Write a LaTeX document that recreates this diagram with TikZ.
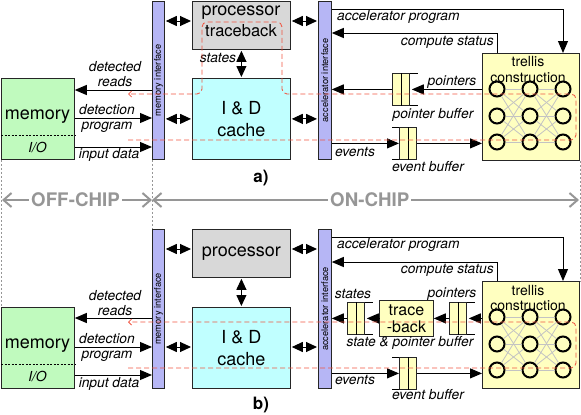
\documentclass[tikz,border=0pt]{standalone}
\usepackage{fontspec}
\setmainfont{TeX Gyre Heros}
\usetikzlibrary{arrows.meta}

\definecolor{memgreen}{RGB}{192,250,190}
\definecolor{ifblue}{RGB}{182,182,245}
\definecolor{procgray}{RGB}{216,216,216}
\definecolor{cachecyan}{RGB}{192,255,255}
\definecolor{trelyellow}{RGB}{255,255,192}
\definecolor{flowred}{RGB}{240,85,65}
\definecolor{chipgray}{RGB}{150,150,150}
\definecolor{meshgray}{RGB}{195,195,195}

\tikzset{
  box/.style={draw=black!85, line width=0.8pt, inner sep=0pt, anchor=north west},
  big/.style={font=\fontsize{18}{18}\selectfont, inner sep=0pt},
  lbl/.style={font=\fontsize{13.8}{15}\selectfont\itshape, inner sep=0pt},
  iftxt/.style={font=\fontsize{9.3}{9.3}\selectfont, rotate=90, inner sep=0pt},
  arr/.style={line width=1pt, -{Triangle[length=12pt,width=10pt]}},
  darr/.style={line width=1pt, shorten <=1pt, shorten >=1pt,
    {Triangle[length=11pt,width=10pt]}-{Triangle[length=11pt,width=10pt]}},
  flow/.style={draw=flowred, line width=0.85pt, dash pattern=on 5pt off 3pt,
    rounded corners=5pt, -{Straight Barb[length=3pt,width=6pt]}},
  chipdim/.style={draw=chipgray, line width=2pt,
    {Straight Barb[length=8pt,width=14pt]}-{Straight Barb[length=8pt,width=14pt]}},
  chiptxt/.style={font=\fontsize{18.7}{19}\selectfont\bfseries, text=chipgray, fill=white, inner sep=2pt},
  guide/.style={draw=chipgray, line width=0.5pt, dash pattern=on 2pt off 2pt},
  buf/.style={box, fill=trelyellow, minimum width=17pt, minimum height=32pt},
  knot/.style={circle, draw, line width=2pt, fill=trelyellow, minimum size=15pt, inner sep=0pt},
  mesh/.style={draw=meshgray, line width=0.8pt},
}

% queue with two cells, open end right / left
\newcommand{\bufright}[3]{%
  \node[buf] (#1) at (#2,#3) {};
  \draw[line width=0.8pt] (#1.north) -- (#1.south);
  \draw[line width=0.8pt] (#1.north east) -- ++(8,0);
  \draw[line width=0.8pt] (#1.south east) -- ++(8,0);
}
\newcommand{\bufleft}[3]{%
  \node[buf] (#1) at (#2,#3) {};
  \draw[line width=0.8pt] (#1.north) -- (#1.south);
  \draw[line width=0.8pt] (#1.north west) -- ++(-7,0);
  \draw[line width=0.8pt] (#1.south west) -- ++(-7,0);
}
% trellis box with 3x3 states
\newcommand{\trellis}[1]{%
  \node[box, fill=trelyellow, minimum width=97pt, minimum height=107pt] (#1) at (482,53) {};
  \node[font=\fontsize{14}{14}\selectfont, inner sep=0pt] (#1-t) at (528,62) {trellis};
  \node[font=\fontsize{14}{14}\selectfont, inner sep=0pt] (#1-c) at (528,78) {construction};
  \foreach \row/\yy in {1/89,2/116,3/142}
    \foreach \col/\xx in {1/497,2/530,3/563}
      \node[knot] (#1\row\col) at (\xx,\yy) {};
  \foreach \a in {1,2,3}
    \foreach \b in {1,2,3} {
      \draw[mesh] (#1\a1) -- (#1\b2);
      \draw[mesh] (#1\a2) -- (#1\b3);
    }
}

\begin{document}
\begin{tikzpicture}[x=1pt, y=-1pt]
  \useasboundingbox (0,0) rectangle (581,415);

  % ---- a) ----
  \node[box, fill=memgreen, minimum width=73pt, minimum height=81pt] (mem) at (1,78) {};
  \draw[line width=0.8pt, dash pattern=on 2pt off 1.5pt] (mem.west |- 0,135) -- (mem.east |- 0,135);
  \node[big] (memtxt) at (37.5,117) {memory};
  \node[lbl] (io) at (37.5,147) {I/O};

  \node[box, fill=ifblue, minimum width=12pt, minimum height=158pt] (memif) at (152,1) {};
  \node[iftxt] (memiftxt) at (memif.center) {memory interface};
  \node[box, fill=procgray, minimum width=98pt, minimum height=48pt] (proc) at (192,1) {};
  \node[big] (proctxt) at (241,13) {processor};
  \node[font=\fontsize{16.5}{16.5}\selectfont, inner sep=0pt] (tbtxt) at (241,31) {traceback};
  \node[box, fill=cachecyan, minimum width=98pt, minimum height=81pt,
        align=center, font=\fontsize{18}{22}\selectfont] (cache) at (192,78) {I \& D\\cache};
  \node[box, fill=ifblue, minimum width=13pt, minimum height=158pt] (accif) at (318,1) {};
  \node[iftxt] (acciftxt) at (accif.center) {accelerator interface};

  \trellis{trel}
  \bufright{pbuf}{392}{73}
  \bufleft{ebuf}{399}{127}

  \draw[arr] (memif.west |- 0,90) -- (mem.east |- 0,90);
  \draw[arr] (mem.east |- 0,118) -- (memif.west |- 0,118);
  \draw[arr] (mem.east |- 0,147) -- (memif.west |- 0,147);
  \node[lbl, align=center] (det) at (115,74) {detected\\reads};
  \node[lbl] (dprog) at (107,110) {detection};
  \node[lbl] (dprog2) at (107,127) {program};
  \node[lbl] (indata) at (109,155) {input data};

  \draw[darr] (memif.east |- 0,21) -- (proc.west |- 0,21);
  \draw[darr] (memif.east |- cache.west) -- (cache.west);
  \draw[darr] (proc.east |- 0,21) -- (accif.west |- 0,21);
  \draw[darr] (cache.east) -- (accif.west |- cache.east);
  \draw[darr] (proc.south) -- (cache.north);
  \node[lbl] (states) at (218,58) {states};

  \draw[arr] (accif.east |- 0,9) -| (trel13 |- trel.north);
  \node[lbl, anchor=west] (accprog) at (337,17) {accelerator program};
  \draw[arr] (trel11 |- trel.north) |- (accif.east |- 0,33);
  \node[lbl, anchor=east] (cstat) at (494,42) {compute status};

  \draw[arr] (trel.west |- pbuf.east) -- ([xshift=2pt]pbuf.east);
  \draw[arr] (pbuf.west) -- (accif.east |- pbuf.west);
  \node[lbl] (ptrs) at (452,82) {pointers};
  \node[lbl] (pbuftxt) at (433,115) {pointer buffer};

  \draw[arr] (accif.east |- ebuf.west) -- (ebuf.west);
  \draw[arr] (ebuf.east) -- (trel.west |- ebuf.east);
  \node[lbl] (ev) at (355,152) {events};
  \node[lbl] (ebuftxt) at (428,167) {event buffer};

  \coordinate (flowin) at (128,140);
  \coordinate (flowout) at (128,94);
  \draw[flow] (flowin) -- (576,140) -- (576,94) -- (282,94) -- (282,22)
    -- (202,22) -- (202,94) -- (flowout);

  \node[font=\fontsize{17}{17}\selectfont\bfseries, inner sep=0pt] (capa) at (261,178) {a)};

  % ---- b) ----
  \begin{scope}[yshift=-228pt]
    \node[box, fill=memgreen, minimum width=73pt, minimum height=81pt] (memb) at (1,79) {};
    \draw[line width=0.8pt, dash pattern=on 2pt off 1.5pt] (memb.west |- 0,136) -- (memb.east |- 0,136);
    \node[big] (memtxtb) at (37.5,118) {memory};
    \node[lbl] (iob) at (37.5,148) {I/O};

    \node[box, fill=ifblue, minimum width=12pt, minimum height=159pt] (memifb) at (152,1) {};
    \node[iftxt] (memiftxtb) at (memifb.center) {memory interface};
    \node[box, fill=procgray, minimum width=98pt, minimum height=48pt,
          font=\fontsize{18}{18}\selectfont] (procb) at (192,1) {processor};
    \node[box, fill=cachecyan, minimum width=98pt, minimum height=81pt,
          align=center, font=\fontsize{18}{22}\selectfont] (cacheb) at (192,79) {I \& D\\cache};
    \node[box, fill=ifblue, minimum width=13pt, minimum height=159pt] (accifb) at (318,1) {};
    \node[iftxt] (acciftxtb) at (accifb.center) {accelerator interface};

    \trellis{trelb}
    \bufright{pbufb}{449}{74}
    \node[box, fill=trelyellow, minimum width=54pt, minimum height=36pt,
          align=center, font=\fontsize{16}{17}\selectfont] (tb) at (379,72) {trace\\-back};
    \bufright{sbufb}{347}{74}
    \bufleft{ebufb}{399}{129}

    \draw[arr] (memifb.west |- 0,90) -- (memb.east |- 0,90);
    \draw[arr] (memb.east |- 0,119) -- (memifb.west |- 0,119);
    \draw[arr] (memb.east |- 0,147) -- (memifb.west |- 0,147);
    \node[lbl, align=center] (detb) at (115,75) {detected\\reads};
    \node[lbl] (dprogb) at (107,111) {detection};
    \node[lbl] (dprog2b) at (107,128) {program};
    \node[lbl] (indatab) at (109,156) {input data};

    \draw[darr] (memifb.east |- 0,21) -- (procb.west |- 0,21);
    \draw[darr] (memifb.east |- 0,119) -- (cacheb.west |- 0,119);
    \draw[darr] (procb.east |- 0,21) -- (accifb.west |- 0,21);
    \draw[darr] (cacheb.east |- 0,119) -- (accifb.west |- 0,119);
    \draw[darr] (procb.south) -- (cacheb.north);

    \draw[arr] (accifb.east |- 0,9) -| (trelb13 |- trelb.north);
    \node[lbl, anchor=west] (accprogb) at (337,17) {accelerator program};
    \draw[arr] (trelb11 |- trelb.north) |- (accifb.east |- 0,34);
    \node[lbl, anchor=east] (cstatb) at (494,42) {compute status};

    \draw[arr] (trelb.west |- pbufb.east) -- ([xshift=2pt]pbufb.east);
    \draw[arr] (pbufb.west) -- (tb.east);
    \draw[arr] (tb.west) -- ([xshift=2pt]sbufb.east);
    \draw[arr] (sbufb.west) -- (accifb.east |- sbufb.west);
    \node[lbl] (statesb) at (353,66) {states};
    \node[lbl] (ptrsb) at (452,66) {pointers};
    \node[lbl] (spbuf) at (410,115) {state \& pointer buffer};

    \draw[arr] (accifb.east |- ebufb.west) -- (ebufb.west);
    \draw[arr] (ebufb.east) -- (trelb.west |- ebufb.east);
    \node[lbl] (evb) at (355,152) {events};
    \node[lbl] (ebuftxtb) at (428,167) {event buffer};

    \coordinate (flowinb) at (128,140);
    \coordinate (flowoutb) at (128,94);
    \draw[flow] (flowinb) -- (576,140) -- (576,94) -- (flowoutb);
  \end{scope}

  \node[font=\fontsize{17}{17}\selectfont\bfseries, inner sep=0pt] (capb) at (261,405) {b)};

  % on-chip / off-chip
  \draw[guide] (mem.south west) -- (memb.north west);
  \draw[guide] (memif.south west) -- (memifb.north west);
  \draw[guide] (trel.south east) -- (trelb.north east);
  \coordinate (chipL) at (2,200);
  \coordinate (chipM) at (152,200);
  \coordinate (chipR) at (579,200);
  \draw[chipdim] (chipL) -- (chipM) node[chiptxt, pos=0.49] (offchip) {OFF-CHIP};
  \draw[chipdim] (chipM) -- (chipR) node[chiptxt, pos=0.51] (onchip) {ON-CHIP};
\end{tikzpicture}
\end{document}
